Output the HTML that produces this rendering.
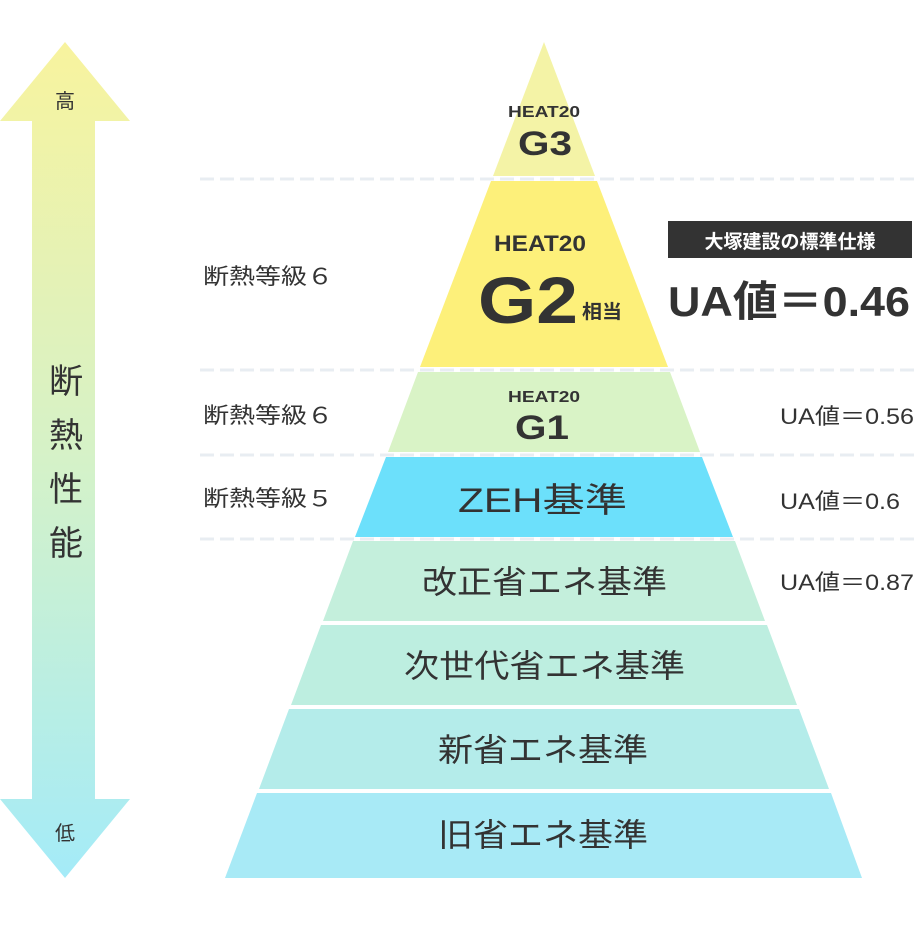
<!DOCTYPE html>
<html><head><meta charset="utf-8"><style>
body{margin:0;background:#fff}
text{font-family:"Liberation Sans","Noto Sans CJK JP",sans-serif;fill:#333}
</style></head><body>
<svg width="920" height="920" viewBox="0 0 920 920" xmlns="http://www.w3.org/2000/svg">
<defs>
<linearGradient id="ag" x1="0" y1="0" x2="0" y2="1">
<stop offset="0" stop-color="#f8f39e"/><stop offset="0.5" stop-color="#d5f2c8"/><stop offset="1" stop-color="#a4ebf8"/>
</linearGradient>
</defs>
<polygon points="65,42 130,121 95,121 95,799 130,799 65,878 0,799 32,799 32,121 0,121" fill="url(#ag)"/>
<text x="65" y="108" font-size="20" text-anchor="middle">高</text>
<text x="65" y="840" font-size="20" text-anchor="middle">低</text>
<g font-size="34" text-anchor="middle">
<text x="66" y="393">断</text><text x="66" y="447">熱</text><text x="66" y="501">性</text><text x="66" y="555">能</text>
</g>
<g stroke="#e8edf2" stroke-width="3" stroke-dasharray="14,6">
<line x1="200" y1="179" x2="920" y2="179"/><line x1="200" y1="370" x2="920" y2="370"/>
<line x1="200" y1="455" x2="920" y2="455"/><line x1="200" y1="539" x2="920" y2="539"/>
</g>
<polygon points="544,42 595,176 493,176" fill="#f4f3a6"/>
<polygon points="491,181 597,181 668,367 420,367" fill="#fdf07a"/>
<polygon points="418,372 670,372 700,452 388,452" fill="#d9f3c6"/>
<polygon points="386,457 702,457 733,537 355,537" fill="#6ce0fb"/>
<polygon points="353,541 735,541 765,621 323,621" fill="#c4efdc"/>
<polygon points="321,625 767,625 797,705 291,705" fill="#bdeee0"/>
<polygon points="289,709 799,709 829,789 259,789" fill="#b4ecea"/>
<polygon points="257,793 831,793 862,878 225,878" fill="#a8eaf6"/>
<g font-weight="bold">
<text x="508" y="117" font-size="16" textLength="72" lengthAdjust="spacingAndGlyphs">HEAT20</text>
<text x="518" y="155" font-size="34" textLength="54" lengthAdjust="spacingAndGlyphs">G3</text>
<text x="494" y="251" font-size="22" textLength="92" lengthAdjust="spacingAndGlyphs">HEAT20</text>
<text x="478" y="323" font-size="66" textLength="100" lengthAdjust="spacingAndGlyphs">G2</text>
<text x="582" y="318" font-size="19" textLength="40" lengthAdjust="spacingAndGlyphs">相当</text>
<text x="508" y="402" font-size="16" textLength="72" lengthAdjust="spacingAndGlyphs">HEAT20</text>
<text x="515" y="439" font-size="34" textLength="54" lengthAdjust="spacingAndGlyphs">G1</text>
</g>
<g font-size="32">
<text x="458" y="512" font-size="34" textLength="169" lengthAdjust="spacingAndGlyphs">ZEH基準</text>
<text x="422" y="593" textLength="245" lengthAdjust="spacingAndGlyphs">改正省エネ基準</text>
<text x="404" y="677" textLength="281" lengthAdjust="spacingAndGlyphs">次世代省エネ基準</text>
<text x="438" y="761" textLength="210" lengthAdjust="spacingAndGlyphs">新省エネ基準</text>
<text x="438" y="846" textLength="210" lengthAdjust="spacingAndGlyphs">旧省エネ基準</text>
</g>
<g font-size="22">
<text x="203" y="284" textLength="130" lengthAdjust="spacingAndGlyphs">断熱等級６</text>
<text x="203" y="423" textLength="130" lengthAdjust="spacingAndGlyphs">断熱等級６</text>
<text x="203" y="506" textLength="130" lengthAdjust="spacingAndGlyphs">断熱等級５</text>
</g>
<rect x="668" y="221" width="244" height="37" fill="#333"/>
<text x="790" y="248" font-size="19" font-weight="bold" text-anchor="middle" style="fill:#fff">大塚建設の標準仕様</text>
<text x="668" y="316" font-size="42" font-weight="bold" textLength="242" lengthAdjust="spacingAndGlyphs">UA値＝0.46</text>
<g font-size="22">
<text x="780" y="424" textLength="134" lengthAdjust="spacingAndGlyphs">UA値＝0.56</text>
<text x="780" y="509" textLength="120" lengthAdjust="spacingAndGlyphs">UA値＝0.6</text>
<text x="780" y="590" textLength="134" lengthAdjust="spacingAndGlyphs">UA値＝0.87</text>
</g>
</svg>
</body></html>
